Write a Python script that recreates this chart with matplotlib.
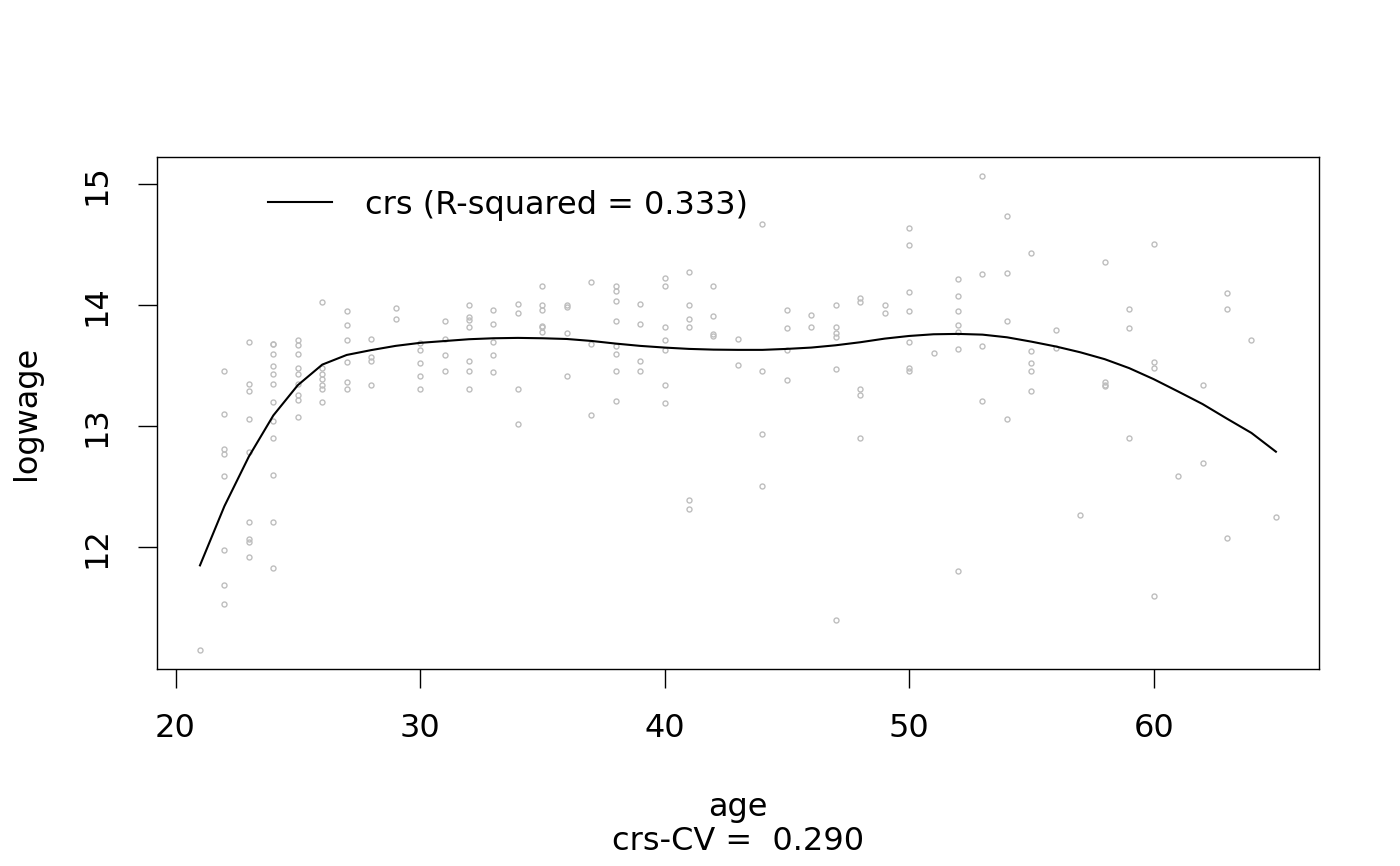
import matplotlib
matplotlib.use("Agg")
import matplotlib.pyplot as plt

obs = {
    21: [11.15],
    22: [13.46, 13.10, 12.81, 12.77, 12.59, 11.98, 11.69, 11.53],
    23: [13.70, 13.35, 13.29, 13.06, 12.79, 12.21, 12.07, 12.04, 11.92],
    24: [13.68, 13.68, 13.60, 13.50, 13.43, 13.35, 13.20, 13.04, 12.90, 12.60, 12.21, 11.83],
    25: [13.71, 13.67, 13.60, 13.48, 13.43, 13.35, 13.26, 13.22, 13.08],
    26: [14.03, 13.48, 13.43, 13.39, 13.34, 13.31, 13.20],
    27: [13.95, 13.84, 13.71, 13.53, 13.37, 13.31],
    28: [13.72, 13.57, 13.54, 13.34],
    29: [13.98, 13.89],
    30: [13.69, 13.63, 13.52, 13.42, 13.31],
    31: [13.87, 13.72, 13.59, 13.46],
    32: [14.00, 13.90, 13.88, 13.82, 13.54, 13.46, 13.31],
    33: [13.96, 13.85, 13.70, 13.59, 13.45],
    34: [14.01, 13.94, 13.31, 13.02],
    35: [14.16, 14.00, 13.96, 13.83, 13.82, 13.78],
    36: [14.00, 13.99, 13.77, 13.42],
    37: [14.19, 13.68, 13.09],
    38: [14.16, 14.12, 14.04, 13.87, 13.66, 13.60, 13.46, 13.21],
    39: [14.01, 13.85, 13.54, 13.46],
    40: [14.23, 14.16, 13.82, 13.71, 13.63, 13.34, 13.19],
    41: [14.28, 14.00, 13.89, 13.82, 12.39, 12.32],
    42: [14.16, 13.91, 13.76, 13.75],
    43: [13.72, 13.51],
    44: [14.67, 13.46, 12.94, 12.51],
    45: [13.96, 13.81, 13.63, 13.38],
    46: [13.92, 13.82],
    47: [14.00, 13.82, 13.77, 13.74, 13.47, 11.40],
    48: [14.06, 14.03, 13.31, 13.26, 12.90],
    49: [14.00, 13.94],
    50: [14.64, 14.50, 14.11, 13.95, 13.70, 13.48, 13.46],
    51: [13.61],
    52: [14.22, 14.08, 13.95, 13.84, 13.78, 13.64, 11.80],
    53: [15.07, 14.26, 13.66, 13.21],
    54: [14.74, 14.27, 13.87, 13.06],
    55: [14.43, 13.62, 13.52, 13.46, 13.29],
    56: [13.80, 13.65],
    57: [12.27],
    58: [14.36, 13.37, 13.34, 13.33],
    59: [13.97, 13.81, 12.90],
    60: [14.51, 13.53, 13.48, 11.60],
    61: [12.59],
    62: [13.34, 12.70],
    63: [14.10, 13.97, 12.08],
    64: [13.71],
    65: [12.25],
}
age = [a for a, vals in obs.items() for _ in vals]
logwage = [v for vals in obs.values() for v in vals]

# fitted crs curve at each distinct age
fit_age = list(range(21, 66))
fit_logwage = [11.85, 12.34, 12.75, 13.09, 13.34, 13.51, 13.59, 13.63, 13.665, 13.69,
               13.705, 13.72, 13.728, 13.731, 13.728, 13.722, 13.706, 13.684, 13.665, 13.651,
               13.64, 13.634, 13.632, 13.632, 13.64, 13.651, 13.67, 13.695, 13.725, 13.747,
               13.761, 13.764, 13.758, 13.736, 13.70, 13.66, 13.612, 13.555, 13.481, 13.39,
               13.288, 13.184, 13.063, 12.945, 12.79]

r_squared = 0.333
cv = 0.290

fs = 23
fig = plt.figure(figsize=(14, 8.66), dpi=100)
ax = fig.add_axes([0.1121, 0.2275, 0.83, 0.5912])

ax.plot(age, logwage, "o", ms=3.6, mfc="none", mec="#bebebe", mew=1.0)
ax.plot(fit_age, fit_logwage, color="black", lw=1.5,
        label=f"crs (R-squared = {r_squared:.3f})")
ax.margins(0.04)

ax.set_xticks([20, 30, 40, 50, 60])
ax.set_yticks([12, 13, 14, 15])
ax.tick_params(direction="out", length=14, width=1, pad=18, labelsize=fs)
ax.tick_params(axis="y", labelrotation=90)
for lab in ax.get_yticklabels():
    lab.set_va("center")
for sp in ax.spines.values():
    sp.set_linewidth(1)

ax.set_xlabel(f"age\ncrs-CV =  {cv:.3f}", fontsize=fs, linespacing=1.15)
ax.xaxis.set_label_coords(0.5, -0.24)
ax.set_ylabel("logwage", fontsize=fs)
ax.yaxis.set_label_coords(-0.099, 0.5)

ax.legend(frameon=False, loc="center left", bbox_to_anchor=(0.0955, 0.906),
          handlelength=2.0, handletextpad=1.05, borderpad=0, borderaxespad=0,
          fontsize=fs)

fig.savefig("out.png", dpi=100)
